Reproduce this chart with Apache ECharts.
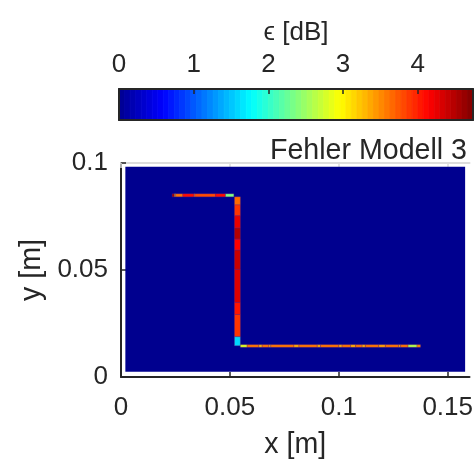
<!DOCTYPE html>
<html>
<head>
<meta charset="utf-8">
<script src="https://cdn.jsdelivr.net/npm/echarts@6/dist/echarts.min.js"></script>
<style>
  html, body { margin: 0; padding: 0; background: #ffffff; }
  #chart { width: 476px; height: 466px; }
</style>
</head>
<body>
<div id="chart"></div>
<script>
// Error field of model 3 (dB): the computation domain is error-free,
// the error sits on the strip line (upper run, riser, lower run).
const domainX = [0.002, 0.158];
const domainY = [0.0024, 0.0982];
const domainError = 0;

// upper horizontal run: cell edges along x, error per cell
const upperBandY = [0.0842, 0.0856];
const upperEdgesX = [0.0235, 0.0246, 0.0251, 0.0284, 0.0335, 0.0339, 0.0434, 0.0480, 0.0518];
const upperError = [4.6, 3.0, 3.6, 4.1, 3.4, 3.8, 4.1, 2.35];

// vertical riser: cell edges along y (top to bottom), error per cell
const riserBandX = [0.0521, 0.0548];
const riserEdgesY = [0.0842, 0.0804, 0.0753, 0.0696, 0.0644, 0.0593, 0.0503, 0.0348, 0.0292, 0.0188, 0.0146];
const riserError = [3.65, 3.9, 4.25, 4.5, 4.15, 4.4, 4.3, 4.05, 3.9, 1.6];

// lower horizontal run: cell edges along x, error per cell
const lowerBandY = [0.0139, 0.0151];
const lowerEdgesX = [0.0548, 0.0579, 0.0633, 0.0648, 0.0679, 0.0688, 0.0794, 0.0817, 0.0901, 0.0916,
                     0.1000, 0.1015, 0.1054, 0.1077, 0.1107, 0.1122, 0.1183, 0.1214, 0.1275, 0.1284,
                     0.1318, 0.1359, 0.1375];
const lowerError = [2.8, 3.6, 3.3, 3.6, 3.35, 3.6, 3.35, 3.6, 3.35, 3.6,
                    3.35, 3.6, 3.35, 3.6, 3.35, 3.6, 3.4, 3.6, 3.35, 3.6,
                    2.6, 3.5];

// axes and colour scale
const xTicks = [0, 0.05, 0.1, 0.15];
const colorbarTicks = [0, 1, 2, 3, 4];
const errorMax = 4.74;
const jetLevels = 64;
const jetColors = ['#00008f', '#0000ff', '#0080ff', '#00ffff', '#80ff80',
                   '#ffff00', '#ff8000', '#ff0000', '#800000'];

const FONT = "'Liberation Sans', Arial, Helvetica, sans-serif";
const INK = '#262626';

// cells as [x0, x1, y0, y1, error]
function runAlongX(edges, band, values) {
  return values.map((v, i) => [edges[i], edges[i + 1], band[0], band[1], v]);
}
function runAlongY(edges, band, values) {
  return values.map((v, i) => [band[0], band[1],
    Math.min(edges[i], edges[i + 1]), Math.max(edges[i], edges[i + 1]), v]);
}

const domainCells = [[domainX[0], domainX[1], domainY[0], domainY[1], domainError]];
const traceCells = []
  .concat(runAlongX(upperEdgesX, upperBandY, upperError))
  .concat(runAlongY(riserEdgesY, riserBandX, riserError))
  .concat(runAlongX(lowerEdgesX, lowerBandY, lowerError));

// colour bar: one band per colormap level
const colorbarCells = [];
for (let k = 0; k < jetLevels; k++) {
  const a = errorMax * k / jetLevels;
  const b = errorMax * (k + 1) / jetLevels;
  colorbarCells.push([a, b, 0, 1, (a + b) / 2]);
}

// edge: 'self' strokes with the cell colour (closes seams), otherwise a given colour
function cellRenderer(edge) {
  return function (params, api) {
    const p0 = api.coord([api.value(0), api.value(3)]);
    const p1 = api.coord([api.value(1), api.value(2)]);
    const fill = api.visual('color');
    const style = { fill: fill };
    if (edge === 'self') { style.stroke = fill; style.lineWidth = 0.8; }
    else if (edge) { style.stroke = edge; style.lineWidth = 0.7; }
    return {
      type: 'rect',
      shape: { x: p0[0], y: p0[1], width: p1[0] - p0[0], height: p1[1] - p0[1] },
      style: style
    };
  };
}

const chart = echarts.init(document.getElementById('chart'), null, { renderer: 'canvas' });

const tickLabel = { fontFamily: FONT, fontSize: 26, color: INK };
const labelText = { fontFamily: FONT, fontSize: 28.6, color: INK, verticalAlign: 'middle' };

chart.setOption({
  animation: false,
  backgroundColor: '#ffffff',
  title: {
    text: 'Fehler Modell 3',
    right: 4,
    top: 132,
    textStyle: { fontFamily: FONT, fontSize: 28.6, fontWeight: 'normal', color: INK }
  },
  grid: [
    { left: 121, top: 163, right: 5, bottom: 89 },
    { left: 119, top: 89, width: 354, height: 31 }
  ],
  xAxis: [
    {
      gridIndex: 0, type: 'value', position: 'bottom', min: 0, max: 0.16,
      axisLine: { show: true, onZero: false, lineStyle: { color: INK, width: 2 } },
      axisTick: { show: true, inside: true, length: 5, customValues: xTicks, lineStyle: { color: INK, width: 1.5 } },
      axisLabel: { margin: 18, customValues: xTicks, ...tickLabel },
      splitLine: { show: false },
      name: 'x [m]', nameLocation: 'middle', nameGap: 68,
      nameTextStyle: labelText
    },
    {
      gridIndex: 0, type: 'value', position: 'top', min: 0, max: 0.16,
      axisLine: { show: true, onZero: false, lineStyle: { color: '#dcdcdc', width: 2 } },
      axisTick: { show: true, inside: true, length: 5, customValues: xTicks, lineStyle: { color: '#dcdcdc', width: 1.5 } },
      axisLabel: { show: false },
      splitLine: { show: false }
    },
    {
      gridIndex: 1, type: 'value', position: 'top', min: 0, max: errorMax, z: 10,
      axisLine: { show: true, onZero: false, lineStyle: { color: INK, width: 2 } },
      axisTick: { show: true, inside: true, length: 5, customValues: colorbarTicks, lineStyle: { color: INK, width: 1.5 } },
      axisLabel: { margin: 11, customValues: colorbarTicks, ...tickLabel },
      splitLine: { show: false },
      name: 'ϵ [dB]', nameLocation: 'middle', nameGap: 56,
      nameTextStyle: { fontFamily: FONT, fontSize: 26, color: INK, verticalAlign: 'middle' }
    },
    {
      gridIndex: 1, type: 'value', position: 'bottom', min: 0, max: errorMax, z: 10,
      axisLine: { show: true, onZero: false, lineStyle: { color: INK, width: 2 } },
      axisTick: { show: false }, axisLabel: { show: false }, splitLine: { show: false }
    }
  ],
  yAxis: [
    {
      gridIndex: 0, type: 'value', position: 'left', min: 0, max: 0.1, interval: 0.05,
      axisLine: { show: true, onZero: false, lineStyle: { color: INK, width: 2 } },
      axisTick: { show: true, inside: true, length: 5, lineStyle: { color: INK, width: 1.5 } },
      axisLabel: { margin: 13, ...tickLabel },
      splitLine: { show: false },
      name: 'y [m]', nameLocation: 'middle', nameGap: 88,
      nameTextStyle: labelText
    },
    {
      gridIndex: 1, type: 'value', position: 'left', min: 0, max: 1, z: 10,
      axisLine: { show: true, onZero: false, lineStyle: { color: INK, width: 2 } },
      axisTick: { show: false }, axisLabel: { show: false }, splitLine: { show: false }
    },
    {
      gridIndex: 1, type: 'value', position: 'right', min: 0, max: 1, z: 10,
      axisLine: { show: true, onZero: false, lineStyle: { color: INK, width: 2 } },
      axisTick: { show: false }, axisLabel: { show: false }, splitLine: { show: false }
    }
  ],
  visualMap: {
    type: 'continuous', show: false, min: 0, max: errorMax, dimension: 4,
    seriesIndex: [0, 1, 2],
    inRange: { color: jetColors }
  },
  series: [
    {
      name: 'domain', type: 'custom', xAxisIndex: 0, yAxisIndex: 0,
      renderItem: cellRenderer(null), data: domainCells, z: 2
    },
    {
      name: 'strip', type: 'custom', xAxisIndex: 0, yAxisIndex: 0,
      renderItem: cellRenderer('rgba(110,40,130,0.45)'), data: traceCells, z: 3
    },
    {
      name: 'colorbar', type: 'custom', xAxisIndex: 2, yAxisIndex: 1,
      renderItem: cellRenderer('self'), data: colorbarCells, z: 2
    }
  ]
});
</script>
</body>
</html>
